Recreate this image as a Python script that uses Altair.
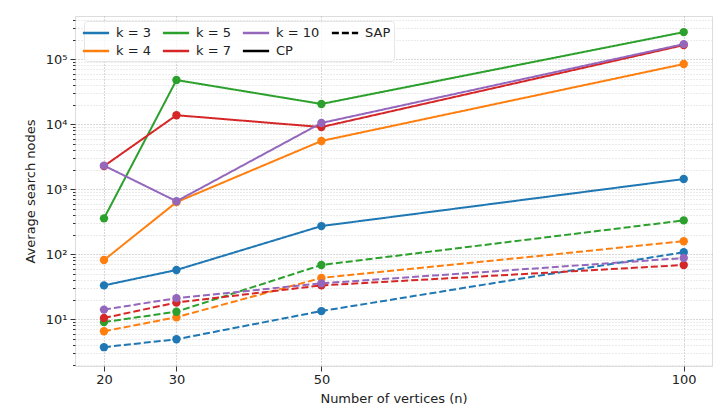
import altair as alt
import pandas as pd

n_values = [20, 30, 50, 100]
k_labels = ["k = 3", "k = 4", "k = 5", "k = 7", "k = 10"]
k_colors = ["#1f77b4", "#ff7f0e", "#2ca02c", "#d62728", "#9467bd"]

cp_values = {
    "k = 3": [33, 57, 270, 1430],
    "k = 4": [81, 630, 5500, 84000],
    "k = 5": [355, 47600, 20400, 260000],
    "k = 7": [2260, 13700, 9000, 164000],
    "k = 10": [2300, 650, 10400, 170000],
}
sap_values = {
    "k = 3": [3.7, 4.9, 13.3, 107],
    "k = 4": [6.5, 10.7, 43, 158],
    "k = 5": [9, 13, 68, 330],
    "k = 7": [10.4, 18, 33, 68],
    "k = 10": [14, 21, 35.5, 87],
}

major_ticks = [10, 100, 1000, 10000, 100000]
minor_ticks = [m * 10 ** e for e in range(0, 6) for m in range(2, 10) if 1.9 <= m * 10 ** e <= 4.6e5]

rows = []
for method, table in (("CP", cp_values), ("SAP", sap_values)):
    for k in k_labels:
        for n, v in zip(n_values, table[k]):
            rows.append({"n": n, "nodes": v, "k": k, "method": method})
df = pd.DataFrame(rows)

# legend entries (vertical legend fills column by column, like matplotlib)
legend_domain = k_labels + ["CP", "SAP"]
color_map = dict(zip(k_labels, k_colors))
color_map["CP"] = "black"
color_map["SAP"] = "black"
legend_colors = [color_map[d] for d in legend_domain]
legend_dashes = [[7, 3] if d == "SAP" else [1, 0] for d in legend_domain]
legend_df = pd.DataFrame({"entry": legend_domain})

xscale = alt.Scale(domain=[16, 103.9], nice=False, zero=False)
yscale = alt.Scale(type="log", domain=[1.9, 4.6e5], nice=False)

sup = "{'10':'10¹','100':'10²','1000':'10³','10000':'10⁴','100000':'10⁵'}"
FS = 13

base = alt.Chart(df).encode(
    x=alt.X("n:Q", scale=xscale,
            axis=alt.Axis(values=n_values, title="Number of vertices (n)", grid=True,
                          gridDash=[1, 2], gridColor="#b0b0b0", tickSize=5,
                          labelFontSize=FS, titleFontSize=FS, titleFontWeight="normal",
                          labelColor="#222", titleColor="#222", domain=False,
                          tickColor="#333", titlePadding=6)),
)

minor_layer = base.mark_line(opacity=0).encode(
    y=alt.Y("nodes:Q", scale=yscale,
            axis=alt.Axis(values=minor_ticks, labels=False, title=None, grid=True,
                          gridDash=[1, 2], gridColor="#d6d6d6", tickSize=2.5,
                          tickColor="#333", domain=False, orient="left")),
    detail="k:N",
)

main_layer = base.mark_line(
    strokeWidth=2,
    point=alt.OverlayMarkDef(filled=True, size=70, opacity=1),
).encode(
    y=alt.Y("nodes:Q", scale=yscale,
            axis=alt.Axis(values=major_ticks, title="Average search nodes", grid=True,
                          gridDash=[1, 2], gridColor="#b0b0b0", tickSize=5,
                          labelExpr=sup + "[datum.value + '']",
                          labelFontSize=FS, titleFontSize=FS, titleFontWeight="normal",
                          labelColor="#222", titleColor="#222", domain=False,
                          tickColor="#333", orient="left", labelPadding=3,
                          titlePadding=8)),
    color=alt.Color("k:N", scale=alt.Scale(domain=k_labels, range=k_colors), legend=None),
    strokeDash=alt.StrokeDash("method:N",
                              scale=alt.Scale(domain=["CP", "SAP"], range=[[1, 0], [7, 3]]),
                              legend=None),
)

legend_props = dict(
    title=None, orient="none", legendX=9, legendY=5, columns=4,
    symbolType="M-1.75,0H1.75",
    symbolSize=225, symbolStrokeWidth=2.5, symbolOpacity=1, labelFontSize=FS,
    labelColor="#222", columnPadding=6, rowPadding=2, labelOffset=11,
    padding=3, fillColor="rgba(255,255,255,0.8)",
    strokeColor="#e6e6e6", cornerRadius=3,
)

legend_layer = alt.Chart(legend_df).mark_line(opacity=0, strokeWidth=0).encode(
    color=alt.Color("entry:N", scale=alt.Scale(domain=legend_domain, range=legend_colors),
                    legend=alt.Legend(**legend_props)),
    strokeDash=alt.StrokeDash("entry:N", scale=alt.Scale(domain=legend_domain, range=legend_dashes),
                              legend=alt.Legend(**legend_props)),
)

chart = alt.layer(minor_layer, main_layer, legend_layer).resolve_axis(
    y="independent"
).resolve_scale(color="independent", strokeDash="independent").properties(
    width=637, height=350,
    autosize=alt.AutoSizeParams(type="none"),
    padding={"left": 75, "top": 16, "right": 8, "bottom": 48},
).configure_view(stroke="#333", strokeWidth=1).configure(font="DejaVu Sans")

chart.save("out.html", embed_options={"renderer": "svg", "actions": False})
